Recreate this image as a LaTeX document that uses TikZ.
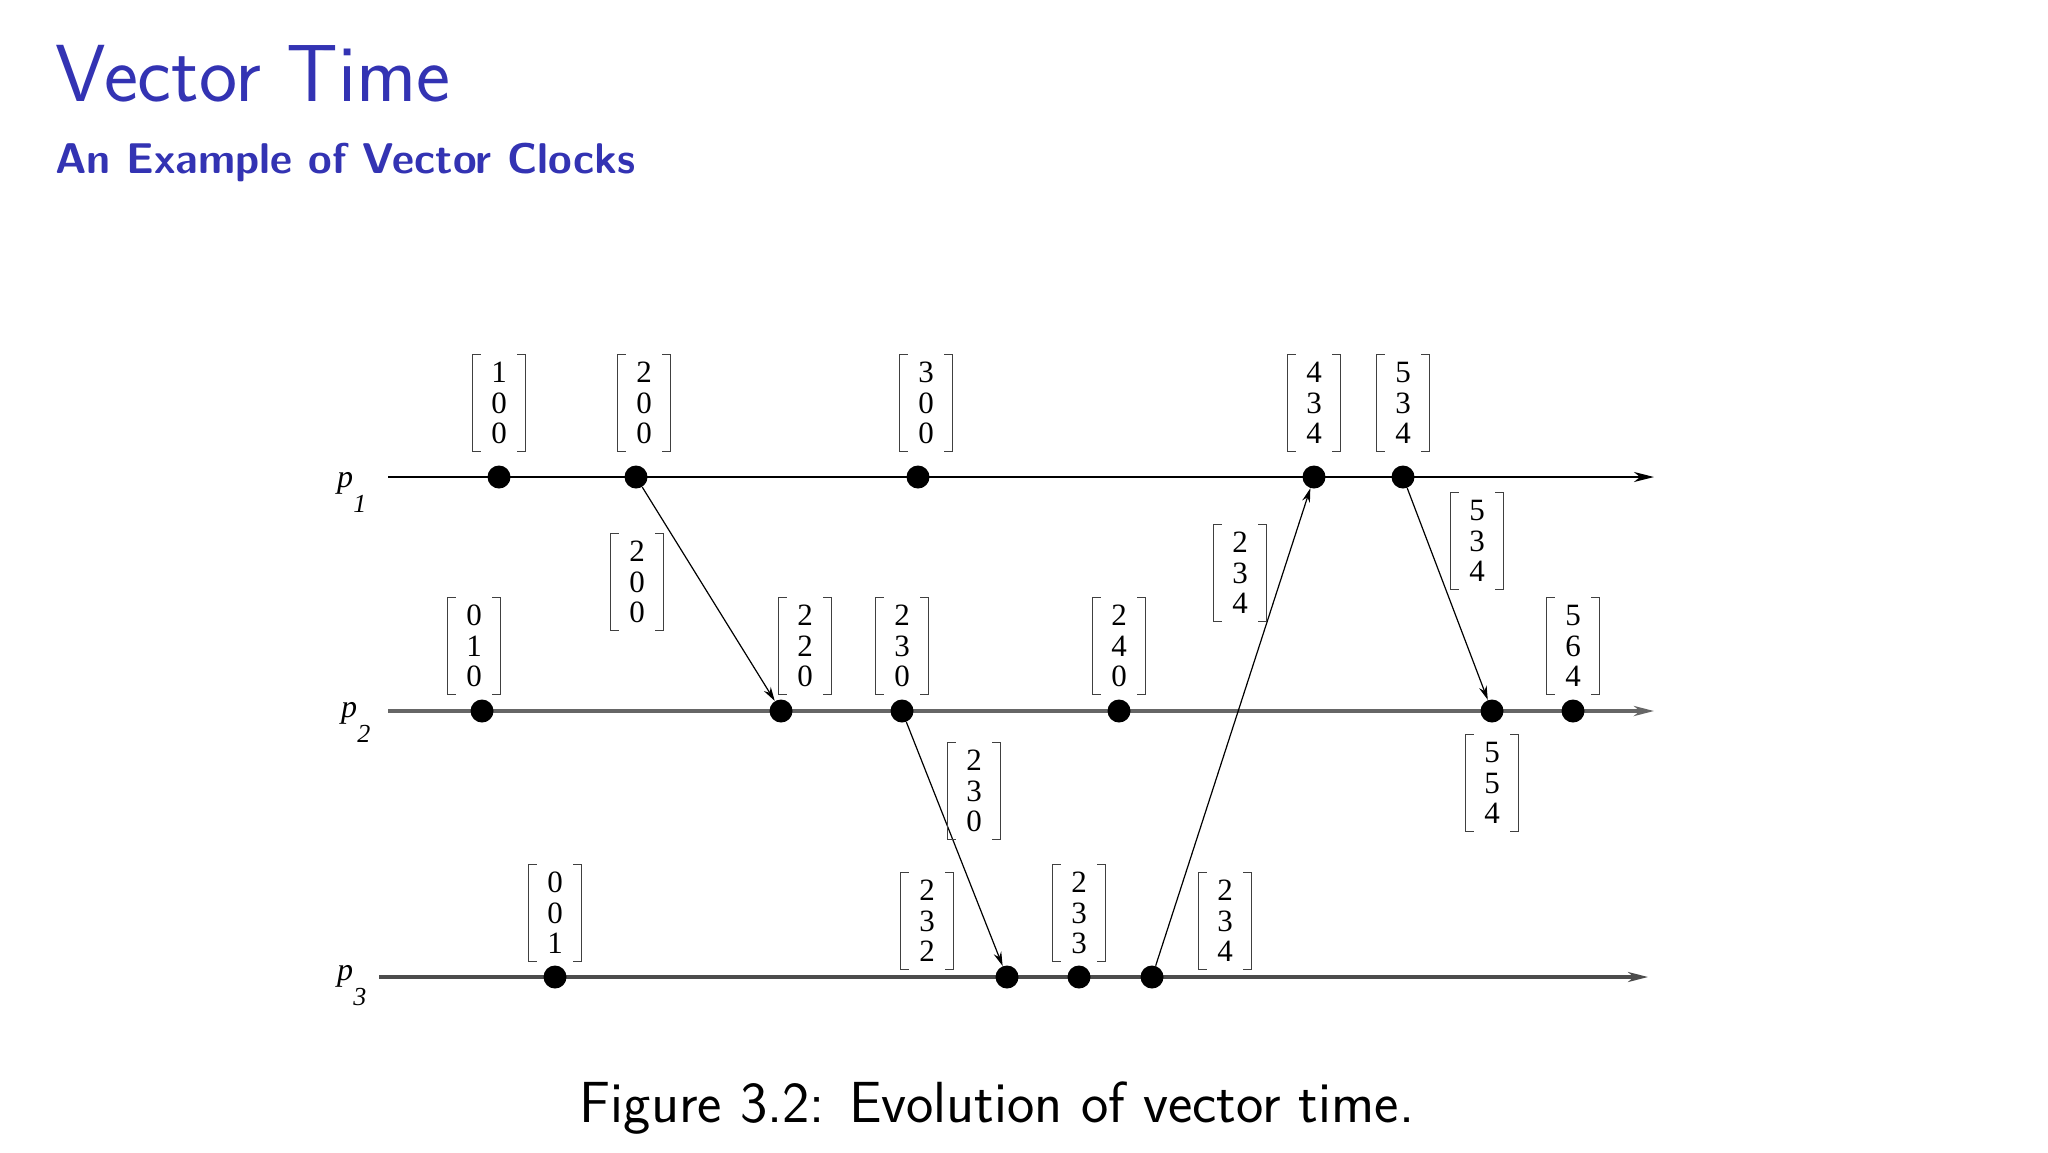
\documentclass[tikz,border=0pt]{standalone}
\usepackage{fontspec}
\setmainfont{Liberation Serif}
\usetikzlibrary{arrows.meta}
\definecolor{bblue}{RGB}{51,51,179}
\newcommand\vlab[5]{%
  \node[vec] (#1) at (#2) {#3\\#4\\#5};
  \draw[brk] ([xshift=4pt]#1.north west) -- (#1.north west) -- (#1.south west) -- ([xshift=4pt]#1.south west);
  \draw[brk] ([xshift=-4pt]#1.north east) -- (#1.north east) -- (#1.south east) -- ([xshift=-4pt]#1.south east);}
\begin{document}
\begin{tikzpicture}[x=0.5pt,y=-0.5pt,
  procA/.style={line width=1.2pt, black, -{Stealth[length=10pt,width=5pt,inset=3pt]}},
  procB/.style={line width=2pt, black!60, -{Stealth[length=10pt,width=5pt,inset=3pt]}},
  procC/.style={line width=1.6pt, black!70, -{Stealth[length=10pt,width=5pt,inset=3pt]}},
  msg/.style={line width=0.6pt, -{Stealth[length=7pt,width=4pt]}},
  dot/.style={circle, fill=black, inner sep=0pt, minimum size=11.5pt},
  vec/.style={align=center, font=\fontsize{15.5}{15.3}\selectfont, inner sep=0pt, minimum width=26pt, minimum height=48pt},
  brk/.style={line width=0.8pt, black!75},
  plab/.style={font=\fontsize{16}{16}\selectfont\itshape, inner sep=0pt},
  psub/.style={font=\fontsize{13}{13}\selectfont\itshape, inner sep=0pt},
  ttl/.style={font=\sffamily\fontsize{40.5}{42}\selectfont, text=bblue, anchor=base west, inner sep=0pt},
  subttl/.style={font=\sffamily\bfseries\fontsize{21.5}{24}\selectfont, text=bblue, anchor=base west, inner sep=0pt},
  capt/.style={font=\sffamily\fontsize{29}{31}\selectfont, anchor=base, inner sep=0pt}]
\useasboundingbox[fill=white] (0,0) rectangle (2048,1152);

\node[ttl] (title) at (55,101) {Vector Time};
\node[subttl] (subtitle) at (55,173) {An Example of Vector Clocks};
\node[capt] (caption) at (997,1122) {Figure 3.2: Evolution of vector time.};

% process lines
\coordinate (s1) at (388,477); \coordinate (e1) at (1654,477);
\coordinate (s2) at (388,711); \coordinate (e2) at (1654,711);
\coordinate (s3) at (379,977); \coordinate (e3) at (1648,977);
\draw[procA] (s1) -- (e1);
\draw[procB] (s2) -- (e2);
\draw[procC] (s3) -- (e3);

\node[plab] (l1) at (345,483) {p};
\node[psub, anchor=north west] (l1s) at (353,495) {1};
\node[plab] (l2) at (349,713) {p};
\node[psub, anchor=north west] (l2s) at (357,725) {2};
\node[plab] (l3) at (345,976) {p};
\node[psub, anchor=north west] (l3s) at (353,988) {3};

% events
\node[dot] (a1) at (499,477) {};
\node[dot] (a2) at (636,477) {};
\node[dot] (a3) at (918,477) {};
\node[dot] (a4) at (1314,477) {};
\node[dot] (a5) at (1403,477) {};
\node[dot] (b1) at (482,711) {};
\node[dot] (b2) at (781,711) {};
\node[dot] (b3) at (902,711) {};
\node[dot] (b4) at (1119,711) {};
\node[dot] (b5) at (1492,711) {};
\node[dot] (b6) at (1573,711) {};
\node[dot] (c1) at (555,977) {};
\node[dot] (c2) at (1007,977) {};
\node[dot] (c3) at (1079,977) {};
\node[dot] (c4) at (1152,977) {};

% messages
\draw[msg] (a2) -- (b2);
\draw[msg] (b3) -- (c2);
\draw[msg] (c4) -- (a4);
\draw[msg] (a5) -- (b5);

% vector timestamps
\vlab{v11}{499,403}{1}{0}{0}
\vlab{v12}{644,403}{2}{0}{0}
\vlab{v13}{926,403}{3}{0}{0}
\vlab{v14}{1314,403}{4}{3}{4}
\vlab{v15}{1403,403}{5}{3}{4}
\vlab{m1}{637,582}{2}{0}{0}
\vlab{v21}{474,646}{0}{1}{0}
\vlab{v22}{805,646}{2}{2}{0}
\vlab{v23}{902,646}{2}{3}{0}
\vlab{v24}{1119,646}{2}{4}{0}
\vlab{v26}{1573,646}{5}{6}{4}
\vlab{m3}{1240,573}{2}{3}{4}
\vlab{m4}{1477,541}{5}{3}{4}
\vlab{v25}{1492,783}{5}{5}{4}
\vlab{m2}{974,791}{2}{3}{0}
\vlab{v31}{555,913}{0}{0}{1}
\vlab{v32}{927,921}{2}{3}{2}
\vlab{v33}{1079,913}{2}{3}{3}
\vlab{v34}{1225,921}{2}{3}{4}
\end{tikzpicture}
\end{document}
